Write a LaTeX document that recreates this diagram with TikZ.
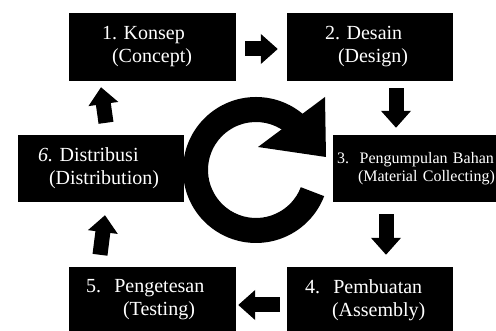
\documentclass[tikz,border=0pt]{standalone}
\usepackage{fontspec}
\setmainfont{Liberation Serif}
\usetikzlibrary{arrows.meta,calc}
\frenchspacing
\begin{document}
\begin{tikzpicture}[x=1pt,y=1pt,
  box/.style={fill=black,text=white,inner sep=0pt,align=left,
    font=\fontsize{20}{23}\selectfont},
  smallbox/.style={box,font=\fontsize{16}{18}\selectfont},
  blk/.style={line width=15pt,-{Triangle[length=17pt,width=29pt]}}]
\useasboundingbox (0,0) rectangle (496,331);
\clip (0,0) rectangle (496,331);
\node[box,minimum width=167pt,minimum height=68pt,text width=101pt] (b1) at (152.5,284)
  {1. Konsep\\\hspace*{10pt}(Concept)};
\node[box,minimum width=166pt,minimum height=68pt,text width=90pt] (b2) at (370,284)
  {2. Desain\\\hspace*{13pt}(Design)};
\node[smallbox,minimum width=169pt,minimum height=67pt,text width=161pt] (b3) at (417.5,162.5)
  {3.\ \ Pengumpulan Bahan\\\hspace*{21pt}(Material Collecting)};
\node[box,minimum width=166pt,minimum height=67pt,text width=126pt] (b6) at (101,162.5)
  {\textit{6.} Distribusi\\\hspace*{11pt}(Distribution)};
\node[box,minimum width=167pt,minimum height=66pt,text width=133pt] (b5) at (152.5,31)
  {5.\ \ Pengetesan\\\hspace*{37pt}(Testing)};
\node[box,minimum width=166pt,minimum height=66pt,text width=130pt] (b4) at (370,31)
  {4.\ \ Pembuatan\\\hspace*{27pt}(Assembly)};
% block arrows
\draw[blk] ($(b1.east)+(9,-2)$) -- ($(b2.west)+(-9,-2)$);
\draw[blk] ($(b2.south)+(26,-7)$) -- ($(b3.north)+(-21.5,7)$);
\draw[blk] ($(b3.south)+(-31.5,-12)$) -- ($(b4.north)+(16,12)$);
\draw[blk] ($(b4.west)+(-7,-5)$) -- ($(b5.east)+(2,-5)$);
\draw[blk] ($(b5.north)+(-52.5,12)$) -- ($(b6.south)+(4,-13)$);
\draw[blk] ($(b6.north)+(5,12)$) -- ($(b1.south)+(-51.5,-6)$);
% circular arrow
\coordinate (c) at (256,161);
\fill[black] ($(c)+(45:73)$) arc[start angle=45,end angle=339,radius=73]
  -- ($(c)+(339:48)$) arc[start angle=339,end angle=45,radius=48] -- cycle;
\fill[black] (325,234) -- (326,174) -- (258,184) -- cycle;
\end{tikzpicture}
\end{document}
